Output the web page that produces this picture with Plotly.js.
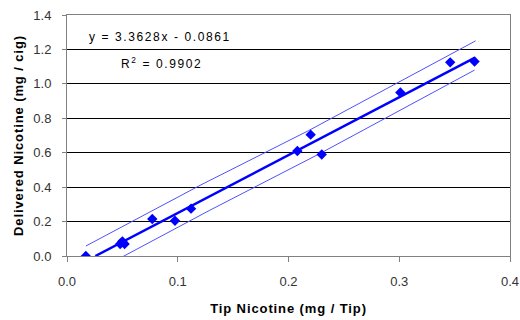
<!DOCTYPE html>
<html>
<head>
<meta charset="utf-8">
<script src="https://cdn.plot.ly/plotly-3.0.1.min.js"></script>
<style>
html,body{margin:0;padding:0;background:#fff;}
#chart{width:520px;height:320px;}
.xtitle,.ytitle{letter-spacing:0.9px;}
.annotation-text{letter-spacing:1.6px;}
</style>
</head>
<body>
<div id="chart"></div>
<script>
// Measured data points
const tipNicotine = [0.017, 0.048, 0.050, 0.052, 0.077, 0.0975, 0.112, 0.208, 0.220, 0.230, 0.301, 0.346, 0.368];
const deliveredNicotine = [0.0, 0.07, 0.085, 0.07, 0.215, 0.205, 0.275, 0.61, 0.705, 0.59, 0.95, 1.125, 1.13];
// Linear fit line (endpoints)
const fitX = [0.0256, 0.368];
const fitY = [0.0, 1.151];
// Upper / lower bands
const upperX = [0.017, 0.120, 0.218, 0.369];
const upperY = [0.058, 0.41, 0.728, 1.25];
const lowerX = [0.0465, 0.129, 0.228, 0.368];
const lowerY = [-0.017, 0.266, 0.594, 1.08];

const xTicks = [0, 0.1, 0.2, 0.3, 0.4];
const xTickText = ['0.0', '0.1', '0.2', '0.3', '0.4'];
const yTicks = [0, 0.2, 0.4, 0.6, 0.8, 1.0, 1.2, 1.4];
const yTickText = ['0.0', '0.2', '0.4', '0.6', '0.8', '1.0', '1.2', '1.4'];

const eqText = 'y = 3.3628x - 0.0861';
const r2Text = 'R<sup>2</sup> = 0.9902';

const traces = [
  {x: upperX, y: upperY, mode: 'lines', line: {color: '#5050ff', width: 1}, hoverinfo: 'skip'},
  {x: lowerX, y: lowerY, mode: 'lines', line: {color: '#5050ff', width: 1}, hoverinfo: 'skip'},
  {x: fitX, y: fitY, mode: 'lines', line: {color: '#0000ff', width: 2.5}},
  {x: tipNicotine, y: deliveredNicotine, mode: 'markers',
   marker: {symbol: 'diamond', size: 8, color: '#0000ff'}}
];

const fam = 'Liberation Sans, Arial, sans-serif';

const layout = {
  width: 520, height: 320,
  margin: {l: 67, r: 10, t: 15, b: 64},
  paper_bgcolor: '#fff', plot_bgcolor: '#fff',
  showlegend: false,
  font: {family: fam, color: '#000'},
  xaxis: {
    range: [0, 0.4], tickvals: xTicks, ticktext: xTickText,
    showgrid: false, zeroline: false,
    showline: true, linecolor: '#808080', linewidth: 1, mirror: true,
    ticks: 'outside', ticklen: 5, tickcolor: '#808080',
    ticklabelstandoff: 8,
    tickfont: {family: fam, size: 13, color: '#333'},
    title: {text: '<b>Tip Nicotine (mg / Tip)</b>', font: {family: fam, size: 13, color: '#000'}, standoff: 16}
  },
  yaxis: {
    range: [0, 1.4], tickvals: yTicks, ticktext: yTickText,
    showgrid: true, gridcolor: '#000', gridwidth: 1, zeroline: false,
    showline: true, linecolor: '#808080', linewidth: 1, mirror: true,
    ticks: 'outside', ticklen: 4, tickcolor: '#808080',
    ticklabelstandoff: 8,
    tickfont: {family: fam, size: 13, color: '#333'},
    title: {text: '<b>Delivered Nicotine (mg / cig)</b>', font: {family: fam, size: 13, color: '#000'}, standoff: 6}
  },
  annotations: [
    {xref: 'paper', yref: 'paper', x: 0.045, y: 0.909, xanchor: 'left', yanchor: 'middle',
     text: eqText, showarrow: false, font: {family: fam, size: 12, color: '#000'}},
    {xref: 'paper', yref: 'paper', x: 0.117, y: 0.80, xanchor: 'left', yanchor: 'middle',
     text: r2Text, showarrow: false, font: {family: fam, size: 12, color: '#000'}}
  ]
};

Plotly.newPlot('chart', traces, layout, {displayModeBar: false, staticPlot: true});
</script>
</body>
</html>
